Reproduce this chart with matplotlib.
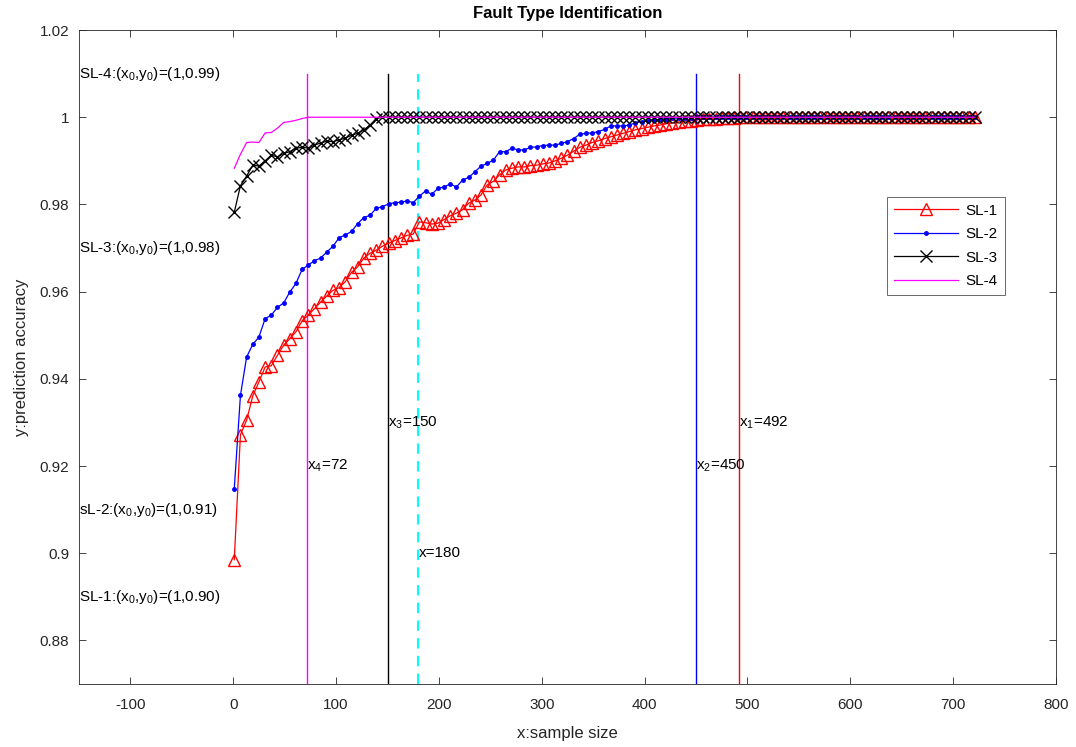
import numpy as np
import matplotlib
matplotlib.use("Agg")
import matplotlib.pyplot as plt

plt.rcParams['font.family'] = ['Liberation Sans', 'DejaVu Sans']
plt.rcParams['mathtext.fontset'] = 'custom'
plt.rcParams['mathtext.rm'] = 'Liberation Sans'
plt.rcParams['mathtext.it'] = 'Liberation Sans'
plt.rcParams['axes.unicode_minus'] = False

# ---------------- data ----------------
x = np.arange(1, 722, 6)  # sample sizes 1, 7, ..., 721 (121 points)

sl1_head = [0.8985, 0.9272, 0.9305, 0.9361, 0.9393, 0.9427, 0.9430, 0.9454, 0.9477, 0.9492,
            0.9508, 0.9533, 0.9546, 0.9561, 0.9576, 0.9590, 0.9603, 0.9609, 0.9623, 0.9644,
            0.9657, 0.9677, 0.9688, 0.9695, 0.9704, 0.9711, 0.9717, 0.9723, 0.9729, 0.9732,
            0.9760, 0.9758, 0.9755, 0.9757, 0.9765, 0.9774, 0.9780, 0.9788, 0.9803, 0.9810,
            0.9822, 0.9845, 0.9853, 0.9868, 0.9879, 0.9883, 0.9886, 0.9886, 0.9889, 0.9890,
            0.9893, 0.9895, 0.9900, 0.9906, 0.9913, 0.9922, 0.9931, 0.9936, 0.9942, 0.9946,
            0.9951, 0.9955, 0.9959, 0.9963, 0.9967, 0.9971, 0.9974, 0.9977, 0.9980, 0.9982,
            0.9985, 0.9987, 0.9989, 0.9991, 0.9992, 0.9994, 0.9995, 0.9996, 0.9997, 0.9998,
            0.9999, 0.9999]
sl2_head = [0.9148, 0.9362, 0.9450, 0.9479, 0.9496, 0.9538, 0.9546, 0.9564, 0.9574, 0.9599,
            0.9619, 0.9651, 0.9661, 0.9671, 0.9677, 0.9691, 0.9704, 0.9724, 0.9730, 0.9738,
            0.9756, 0.9770, 0.9775, 0.9791, 0.9795, 0.9801, 0.9804, 0.9805, 0.9808, 0.9804,
            0.9819, 0.9831, 0.9823, 0.9837, 0.9840, 0.9847, 0.9840, 0.9856, 0.9862, 0.9875,
            0.9888, 0.9894, 0.9902, 0.9921, 0.9921, 0.9929, 0.9925, 0.9925, 0.9931, 0.9932,
            0.9935, 0.9936, 0.9936, 0.9940, 0.9944, 0.9951, 0.9961, 0.9963, 0.9964, 0.9967,
            0.9972, 0.9980, 0.9980, 0.9980, 0.9982, 0.9987, 0.9990, 0.9992, 0.9994, 0.9995,
            0.9997, 0.9998, 0.9998, 0.9999, 0.9999]
sl3_head = [0.9782, 0.9843, 0.9865, 0.9890, 0.9888, 0.9900, 0.9913, 0.9909, 0.9917, 0.9921,
            0.9929, 0.9931, 0.9929, 0.9936, 0.9941, 0.9945, 0.9944, 0.9948, 0.9952, 0.9959,
            0.9963, 0.9971, 0.9982, 0.9997]
sl4_head = [0.9883, 0.9915, 0.9942, 0.9943, 0.9942, 0.9964, 0.9965, 0.9975, 0.9988, 0.9990,
            0.9993, 0.9997]

sl1 = sl1_head + [1.0] * (len(x) - len(sl1_head))
sl2 = sl2_head + [1.0] * (len(x) - len(sl2_head))
sl3 = sl3_head + [1.0] * (len(x) - len(sl3_head))
sl4 = sl4_head + [1.0] * (len(x) - len(sl4_head))

labels = ['SL-1', 'SL-2', 'SL-3', 'SL-4']

vline_x = [72, 150, 180, 450, 492]
vline_labels = [r'x$_4$=72', r'x$_3$=150', 'x=180', r'x$_2$=450', r'x$_1$=492']
vline_label_y = [0.92, 0.93, 0.90, 0.92, 0.93]
vline_colors = ['#FF00FF', '#000000', '#00FFFF', '#0000FF', '#FF0000']
vline_styles = ['-', '-', '--', '-', '-']
vline_ylim = [0.87, 1.01]

start_texts = [r'SL-4:(x$_0$,y$_0$)=(1,0.99)', r'SL-3:(x$_0$,y$_0$)=(1,0.98)',
               r'sL-2:(x$_0$,y$_0$)=(1,0.91)', r'SL-1:(x$_0$,y$_0$)=(1,0.90)']
start_text_y = [1.01, 0.97, 0.91, 0.89]

xticks = list(range(-100, 801, 100))
yticks = [0.88, 0.90, 0.92, 0.94, 0.96, 0.98, 1.00, 1.02]

# ---------------- figure ----------------
fig = plt.figure(figsize=(10.76, 7.47), dpi=100)
ax = fig.add_axes([0.0734, 0.0843, 0.9080, 0.8755])

# vertical reference lines
for xv, c, ls in zip(vline_x, vline_colors, vline_styles):
    if ls == '--':
        ax.plot([xv, xv], vline_ylim, color=c, lw=1.5, ls=(0, (5, 3.5)), zorder=1)
    else:
        ax.plot([xv, xv], vline_ylim, color=c, lw=1.0, zorder=1)

l1, = ax.plot(x, sl1, color='#FF0000', lw=0.9, marker='^', ms=8, mfc='none',
              mec='#FF0000', mew=1.0, label=labels[0], zorder=3)
l2, = ax.plot(x, sl2, color='#0000FF', lw=0.9, marker='.', ms=5,
              label=labels[1], zorder=3)
l3, = ax.plot(x, sl3, color='#000000', lw=0.9, marker='x', ms=8, mew=1.0,
              label=labels[2], zorder=4)
l4, = ax.plot(x, sl4, color='#FF00FF', lw=0.9, label=labels[3], zorder=5)

for xv, t, yv in zip(vline_x, vline_labels, vline_label_y):
    ax.text(xv, yv, t, ha='left', va='center', fontsize=11, color='black')

for t, yv in zip(start_texts, start_text_y):
    ax.text(-150, yv, t, ha='left', va='center', fontsize=11, color='black')

ax.set_xlim(-150, 800)
ax.set_ylim(0.87, 1.02)
ax.set_xticks(xticks)
ax.set_xticklabels([str(v) for v in xticks])
ax.set_yticks(yticks)
ax.set_yticklabels(['%g' % v for v in yticks])
ax.tick_params(direction='in', top=True, right=True, length=5, width=0.6,
               labelsize=11, colors='#262626')
ax.tick_params(axis='x', pad=10)
ax.tick_params(axis='y', pad=7)
for s in ax.spines.values():
    s.set_color('#262626')
    s.set_linewidth(0.6)

ax.set_xlabel('x:sample size', fontsize=12, color='#262626', labelpad=10)
ax.set_ylabel('y:prediction accuracy', fontsize=12, color='#262626', labelpad=8)
ax.set_title('Fault Type Identification', fontsize=12, fontweight='bold', pad=9)

leg = ax.legend(loc='upper left', bbox_to_anchor=(0.827, 0.745), fontsize=11,
                frameon=True, fancybox=False, edgecolor='#262626',
                handlelength=4.2, borderpad=0.45, labelspacing=0.62,
                handletextpad=0.5, borderaxespad=0)
leg.get_frame().set_linewidth(0.6)

fig.savefig('out.png', dpi=100)
